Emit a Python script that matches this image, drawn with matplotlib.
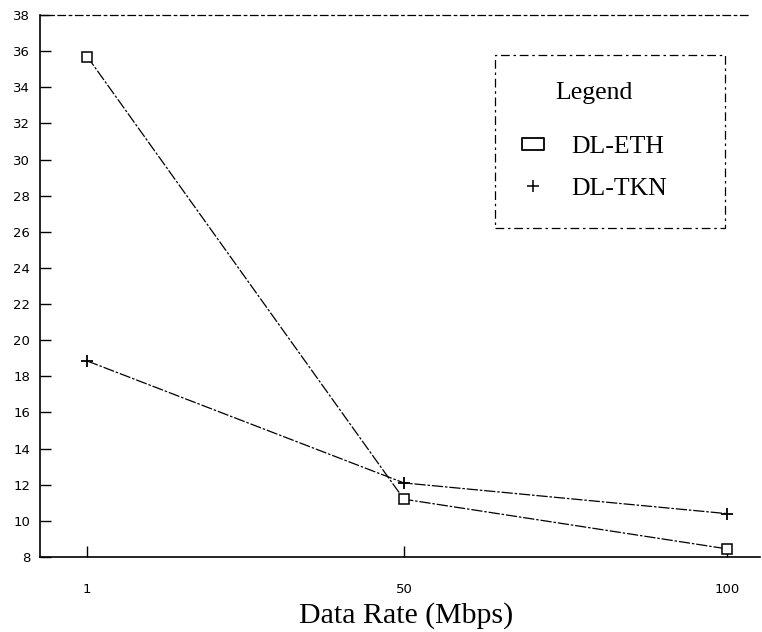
import matplotlib
matplotlib.use("Agg")
import matplotlib.pyplot as plt
from matplotlib.lines import Line2D
from matplotlib.patches import Rectangle
from matplotlib.path import Path

# Throughput data
data_rates = [1, 50, 100]
dl_eth = [35.7, 11.2, 8.45]
dl_tkn = [18.85, 12.1, 10.4]
y_ticks = list(range(8, 39, 2))
x_ticks = [1, 50, 100]
x_tick_labels = ["1", "50", "100"]

fig = plt.figure(figsize=(7.62, 6.32), dpi=100)
ax = fig.add_axes([40 / 762, 75 / 632, 720 / 762, 542 / 632])

line_style = (0, (9, 1.5, 2, 1.5))
ax.plot(data_rates, dl_eth, color="black", lw=0.9, linestyle=line_style,
        marker="s", markersize=7, markerfacecolor="white",
        markeredgecolor="black", markeredgewidth=1.1, label="DL-ETH")
ax.plot(data_rates, dl_tkn, color="black", lw=0.9, linestyle=line_style,
        marker="+", markersize=8, markeredgewidth=1.3, label="DL-TKN")

ax.set_xlim(-6.3, 105.1)
ax.set_ylim(8, 38)
ax.set_yticks(y_ticks)
ax.set_yticklabels([str(v) for v in y_ticks], fontsize=9.5,
                   family="DejaVu Sans")
ax.set_xticks(x_ticks)
ax.set_xticklabels(x_tick_labels, fontsize=9.5, family="DejaVu Sans")
ax.tick_params(axis="y", direction="in", length=8, width=1.0, pad=7)
ax.tick_params(axis="x", direction="in", length=8, width=1.0, pad=19)

for side in ("left", "bottom"):
    ax.spines[side].set_linewidth(1.2)
ax.spines["left"].set_linestyle((0, (12, 1)))
ax.spines["top"].set_linewidth(0.9)
ax.spines["top"].set_linestyle((0, (6, 3, 2, 3)))
ax.spines["top"].set_bounds(-6.3, 103.6)
ax.spines["right"].set_visible(False)

ax.set_xlabel("Data Rate (Mbps)", fontsize=21.5, family="Liberation Serif")
ax.xaxis.set_label_coords(0.508, -0.084)

# Legend: wide open rectangle for the DL-ETH key
wide_box = Path([(-1, -0.55), (1, -0.55), (1, 0.55), (-1, 0.55), (-1, -0.55)],
                [Path.MOVETO, Path.LINETO, Path.LINETO, Path.LINETO,
                 Path.CLOSEPOLY])
handles = [
    Line2D([], [], linestyle="none", marker=wide_box, markersize=16,
           markerfacecolor="white", markeredgecolor="black",
           markeredgewidth=1.3),
    Line2D([], [], linestyle="none", marker="+", markersize=9,
           markeredgecolor="black", markeredgewidth=1.1),
]
serif = {"family": "Liberation Serif", "size": 18.5}
leg = ax.legend(handles, ["DL-ETH", "DL-TKN"], title="Legend",
                loc="upper left", bbox_to_anchor=(0.667, 0.876),
                prop=serif, title_fontproperties=serif,
                frameon=False, borderpad=0, labelspacing=0.76,
                handletextpad=1.0, handlelength=1.0,
                borderaxespad=0, alignment="center")
leg._legend_box.sep = 22

# Dashed frame around the legend
ax.add_patch(Rectangle((0.632, 0.607), 0.319, 0.319, transform=ax.transAxes,
                       fill=False, edgecolor="black", linewidth=0.9,
                       linestyle=(0, (7, 3, 2, 3)), clip_on=False))

fig.savefig("out.png", dpi=100, facecolor="white")
